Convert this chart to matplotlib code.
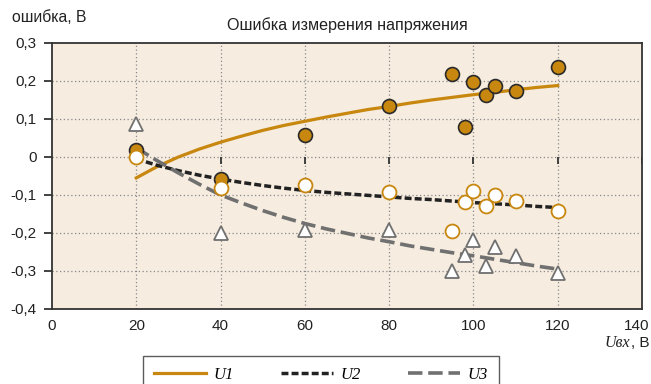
import matplotlib
matplotlib.use("Agg")
import matplotlib.pyplot as plt
from matplotlib.lines import Line2D
from matplotlib.transforms import ScaledTranslation

# measured points
u_meas = [20, 40, 60, 80, 95, 98, 100, 103, 105, 110, 120]
err_u1 = [0.018, -0.058, 0.058, 0.134, 0.218, 0.079, 0.197, 0.163, 0.187, 0.174, 0.237]
err_u2 = [0.0, -0.082, -0.074, -0.092, -0.195, -0.118, -0.089, -0.128, -0.100, -0.115, -0.143]
err_u3 = [0.087, -0.200, -0.192, -0.192, -0.300, -0.258, -0.218, -0.287, -0.237, -0.260, -0.305]

# trend lines
u_fit = [20, 25, 30, 35, 40, 45, 50, 55, 60, 65, 70, 75, 80, 85, 90, 95, 100, 105, 110, 115, 120]
fit_u1 = [-0.055, -0.025, 0.000, 0.021, 0.039, 0.055, 0.070, 0.083, 0.094, 0.105, 0.115,
          0.125, 0.133, 0.142, 0.150, 0.157, 0.164, 0.170, 0.177, 0.183, 0.188]
fit_u2 = [-0.005, -0.022, -0.036, -0.048, -0.058, -0.067, -0.075, -0.082, -0.088, -0.093, -0.097,
          -0.101, -0.105, -0.109, -0.112, -0.116, -0.120, -0.123, -0.126, -0.130, -0.133]
fit_u3 = [0.024, -0.010, -0.042, -0.072, -0.100, -0.121, -0.141, -0.159, -0.175, -0.189, -0.201,
          -0.213, -0.223, -0.234, -0.243, -0.252, -0.260, -0.269, -0.278, -0.287, -0.295]

x_ticks = [0, 20, 40, 60, 80, 100, 120, 140]
y_ticks = [-0.4, -0.3, -0.2, -0.1, 0.0, 0.1, 0.2, 0.3]
y_labels = ['-0,4', '-0,3', '-0,2', '-0,1', '0', '0,1', '0,2', '0,3']
series_names = ['U1', 'U2', 'U3']

GOLD = '#C8870F'
BLACK = '#222222'
GRAY = '#707070'
TXT = '#222222'

plt.rcParams['font.family'] = ['Liberation Sans', 'DejaVu Sans']

fig = plt.figure(figsize=(6.51, 3.84), dpi=100)
ax = fig.add_axes([52 / 651, 1 - 309 / 384, 590 / 651, 266 / 384])
ax.set_facecolor('#F6ECDF')

ax.set_xlim(0, 140)
ax.set_ylim(-0.4, 0.3)
ax.set_xticks(x_ticks)
ax.set_yticks(y_ticks)
ax.set_yticklabels(y_labels)
ax.tick_params(axis='x', length=0, pad=7, labelsize=11, colors=TXT)
ax.tick_params(axis='y', length=6, width=1.2, pad=5, labelsize=11, colors=TXT)
for s in ax.spines.values():
    s.set_color('#333333')
    s.set_linewidth(1.3)

# nudge the last x label inside the figure, as in the original
last = ax.xaxis.get_major_ticks()[-1].label1
last.set_transform(last.get_transform() + ScaledTranslation(-4 / 72, 0, fig.dpi_scale_trans))

# grid (dotted)
for xv in x_ticks[1:-1]:
    ax.axvline(xv, color='#8a8a8a', lw=0.9, ls=(0, (1, 2)), zorder=1)
for yv in y_ticks[1:-1]:
    ax.axhline(yv, color='#8a8a8a', lw=0.9, ls=(0, (1, 2)), zorder=1)
# small marks on the zero line
ax.vlines(x_ticks[1:], -0.018, 0, color='#333333', lw=1.3, zorder=2)

ax.plot(u_fit, fit_u1, color=GOLD, lw=2.3, zorder=3)
ax.plot(u_fit, fit_u2, color=BLACK, lw=2.5, dashes=(2, 0.9), zorder=3)
ax.plot(u_fit, fit_u3, color=GRAY, lw=2.6, dashes=(4, 1.6), zorder=3)

ax.plot(u_meas, err_u1, 'o', ms=10, mfc=GOLD, mec='#2a2a2a', mew=1.2, zorder=4)
ax.plot(u_meas, err_u2, 'o', ms=10, mfc='white', mec=GOLD, mew=1.3, zorder=4)
ax.plot(u_meas, err_u3, '^', ms=10, mfc='white', mec=GRAY, mew=1.3, zorder=4)

fig.text(12 / 651, 1 - 17 / 384, 'ошибка, В', fontsize=11.3, va='center', ha='left', color=TXT)
fig.text(347 / 651, 1 - 25 / 384, 'Ошибка измерения напряжения', fontsize=11.6,
         va='center', ha='center', color=TXT)

# x axis label: italic serif symbol + unit
yb = 1 - 347 / 384
t1 = fig.text(605 / 651, yb, 'Uвх', fontsize=11.5, family='Liberation Serif',
              style='italic', va='baseline', ha='left', color=TXT)
ax.annotate(', В', xy=(1, yb), xycoords=(t1, 'figure fraction'), fontsize=11,
            va='baseline', ha='left', color=TXT, annotation_clip=False)

handles = [
    Line2D([], [], color=GOLD, lw=2.3),
    Line2D([], [], color=BLACK, lw=2.5, dashes=(2, 0.9)),
    Line2D([], [], color=GRAY, lw=2.6, dashes=(4, 1.6)),
]
leg = fig.legend(handles, series_names, loc='upper left', bbox_to_anchor=(143 / 651, 1 - 356 / 384),
                 ncol=3, frameon=True, fancybox=False, handlelength=3.1, handletextpad=0.5,
                 columnspacing=2.8, borderpad=0.65, borderaxespad=0,
                 prop=dict(family='Liberation Serif', style='italic', size=12))
leg.get_frame().set_edgecolor('#333333')
leg.get_frame().set_linewidth(1.0)

fig.savefig('out.png', dpi=100)
